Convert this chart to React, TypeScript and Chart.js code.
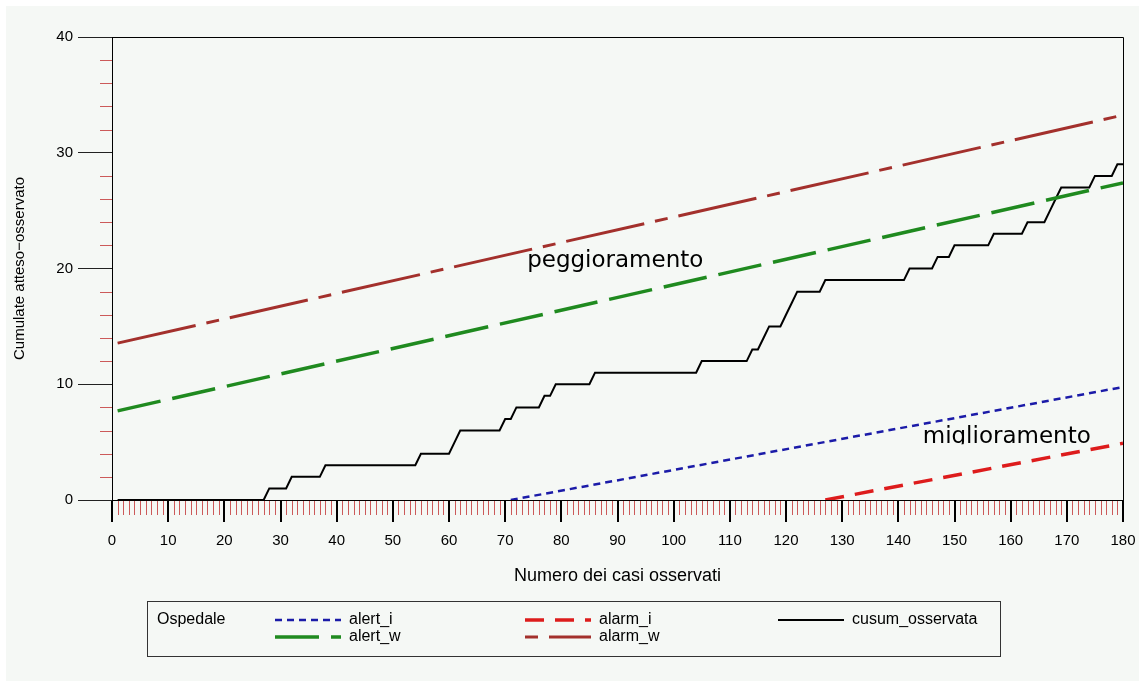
import React, { useEffect, useRef } from "react";
import { Chart, registerables } from "chart.js";

Chart.register(...registerables);

// ---- data ----
const cusumCases = [1, 27, 28, 31, 32, 37, 38, 54, 55, 60, 61, 62, 69, 70, 71, 72, 76, 77, 78, 79, 85, 86, 104, 105, 113, 114, 115, 116, 117, 119, 120, 121, 122, 126, 127, 141, 142, 146, 147, 149, 150, 156, 157, 162, 163, 166, 167, 168, 169, 174, 175, 178, 179, 180];
const cusumValues = [0, 0, 1, 1, 2, 2, 3, 3, 4, 4, 5, 6, 6, 7, 7, 8, 8, 9, 9, 10, 10, 11, 11, 12, 12, 13, 13, 14, 15, 15, 16, 17, 18, 18, 19, 19, 20, 20, 21, 21, 22, 22, 23, 23, 24, 24, 25, 26, 27, 27, 28, 28, 29, 29];

const alertICases = [71, 180];
const alertIValues = [0, 9.76];
const alarmICases = [127, 180];
const alarmIValues = [0, 4.9];
const alertWCases = [1, 180];
const alertWValues = [7.7, 27.4];
const alarmWCases = [1, 180];
const alarmWValues = [13.55, 33.25];

const xMin = 0, xMax = 180, xStep = 10;
const yMin = 0, yMax = 40, yStep = 10;

const xTitle = "Numero dei casi osservati";
const yTitle = "Cumulate atteso\u2212osservato";
const legendTitle = "Ospedale";

// ---- styles ----
const FONT = "'Liberation Sans', Arial, sans-serif";
const COMIC = "'Comic Sans MS', 'DejaVu Sans', sans-serif";
const BG = "#f5f8f5";
const MINOR = "#cc5a5a";

const styles = {
  alert_i: { color: "#1b1ba8", width: 2.5, dash: [7, 5] },
  alert_w: { color: "#1f8a1f", width: 3.5, dash: [44, 12] },
  alarm_i: { color: "#dd1c1c", width: 3.5, dash: [19, 11] },
  alarm_w: { color: "#a3302c", width: 3, dash: [80, 11, 13, 11] },
  cusum: { color: "#000000", width: 2, dash: [] as number[] },
};

const annotations = [
  { text: "peggioramento", x: 89.6, y: 20.1, clip: false },
  { text: "miglioramento", x: 159.3, y: 4.9, clip: true },
];

const pts = (xs: number[], ys: number[]) => xs.map((x, i) => ({ x, y: ys[i] }));

const ds = (label: string, xs: number[], ys: number[], st: any) => ({
  label,
  data: pts(xs, ys),
  borderColor: st.color,
  backgroundColor: st.color,
  borderWidth: st.width,
  borderDash: st.dash,
  borderCapStyle: "butt",
  pointRadius: 0,
  tension: 0,
  fill: false,
});

const framePlugin = {
  id: "frameAndExtras",
  beforeDraw(chart: any) {
    const { ctx, width, height } = chart;
    ctx.save();
    ctx.fillStyle = "#ffffff";
    ctx.fillRect(0, 0, width, height);
    ctx.fillStyle = BG;
    ctx.fillRect(6, 6, width - 6, height - 6);
    ctx.restore();
  },
  afterDraw(chart: any) {
    const { ctx, chartArea: ca, scales } = chart;
    const xs = scales.x, ys = scales.y;
    ctx.save();
    // frame top & right
    ctx.strokeStyle = "#000";
    ctx.lineWidth = 1;
    ctx.beginPath();
    ctx.moveTo(Math.round(ca.left) + 0.5, Math.round(ca.top) + 0.5);
    ctx.lineTo(Math.round(ca.right) + 0.5, Math.round(ca.top) + 0.5);
    ctx.lineTo(Math.round(ca.right) + 0.5, Math.round(ca.bottom) + 0.5);
    ctx.stroke();

    // minor ticks x
    ctx.strokeStyle = MINOR;
    ctx.lineWidth = 1;
    ctx.beginPath();
    for (let v = xMin + 1; v < xMax; v++) {
      if (v % xStep === 0) continue;
      const px = Math.round(xs.getPixelForValue(v)) + 0.5;
      ctx.moveTo(px, ca.bottom + 1);
      ctx.lineTo(px, ca.bottom + 15);
    }
    // minor ticks y
    for (let v = yMin + 2; v < yMax; v += 2) {
      if (v % yStep === 0) continue;
      const py = Math.round(ys.getPixelForValue(v)) + 0.5;
      ctx.moveTo(ca.left - 12, py);
      ctx.lineTo(ca.left, py);
    }
    ctx.stroke();

    // annotations
    ctx.fillStyle = "#000";
    ctx.font = `23px ${COMIC}`;
    ctx.textAlign = "center";
    ctx.textBaseline = "alphabetic";
    for (const a of annotations) {
      const px = xs.getPixelForValue(a.x);
      const py = ys.getPixelForValue(a.y);
      ctx.save();
      if (a.clip) {
        ctx.beginPath();
        ctx.rect(0, 0, chart.width, py + 1);
        ctx.clip();
      }
      ctx.fillText(a.text, px, py);
      ctx.restore();
    }

    // legend
    const box = { left: 147, top: 601, right: 1000, bottom: 656 };
    ctx.strokeStyle = "#333";
    ctx.lineWidth = 1;
    ctx.strokeRect(box.left + 0.5, box.top + 0.5, box.right - box.left, box.bottom - box.top);
    const r1 = 620, r2 = 637;
    ctx.font = `16px ${FONT}`;
    ctx.textAlign = "left";
    ctx.textBaseline = "middle";
    ctx.fillStyle = "#000";
    ctx.fillText(legendTitle, 157, r1);
    const items = [
      { st: styles.alert_i, label: "alert_i", x: 275, y: r1, off: 0 },
      { st: styles.alert_w, label: "alert_w", x: 275, y: r2, off: 0 },
      { st: styles.alarm_i, label: "alarm_i", x: 525, y: r1, off: 0 },
      { st: styles.alarm_w, label: "alarm_w", x: 525, y: r2, off: 91 },
      { st: styles.cusum, label: "cusum_osservata", x: 778, y: r1, off: 0 },
    ];
    for (const it of items) {
      ctx.save();
      ctx.strokeStyle = it.st.color;
      ctx.lineWidth = it.st.width;
      ctx.lineCap = "butt";
      ctx.setLineDash(it.st.dash);
      ctx.lineDashOffset = it.off;
      ctx.beginPath();
      ctx.moveTo(it.x, it.y);
      ctx.lineTo(it.x + 66, it.y);
      ctx.stroke();
      ctx.restore();
      ctx.fillText(it.label, it.x + 74, it.y);
    }
    ctx.restore();
  },
};

export default function App() {
  const ref = useRef<HTMLCanvasElement | null>(null);
  useEffect(() => {
    document.body.style.margin = "0";
    document.body.style.overflow = "hidden";
    const canvas = ref.current!;
    const chart = new Chart(canvas, {
      type: "line",
      data: {
        datasets: [
          ds("alert_i", alertICases, alertIValues, styles.alert_i),
          ds("alarm_i", alarmICases, alarmIValues, styles.alarm_i),
          ds("alert_w", alertWCases, alertWValues, styles.alert_w),
          ds("alarm_w", alarmWCases, alarmWValues, styles.alarm_w),
          ds("cusum_osservata", cusumCases, cusumValues, styles.cusum),
        ] as any,
      },
      options: {
        responsive: false,
        animation: false,
        events: [],
        layout: { padding: { top: 37, right: 16, left: 0, bottom: 0 } },
        plugins: { legend: { display: false }, tooltip: { enabled: false } },
        scales: {
          x: {
            type: "linear",
            min: xMin,
            max: xMax,
            afterFit: (s: any) => { s.height = 181; s.paddingLeft = 0; s.paddingRight = 0; },
            ticks: {
              stepSize: xStep,
              autoSkip: false,
              maxRotation: 0,
              color: "#000",
              padding: 10,
              font: { family: FONT, size: 15 },
            },
            grid: { drawOnChartArea: false, drawTicks: true, tickLength: 22, color: "#000", lineWidth: 2 },
            border: { display: true, color: "#000", width: 1 },
            title: {
              display: true,
              text: xTitle,
              color: "#000",
              font: { family: FONT, size: 18 },
              padding: { top: 0, bottom: 94 },
            },
          },
          y: {
            type: "linear",
            min: yMin,
            max: yMax,
            afterFit: (s: any) => { s.width = 112; s.paddingTop = 0; s.paddingBottom = 0; },
            ticks: {
              stepSize: yStep,
              color: "#000",
              padding: 5,
              font: { family: FONT, size: 15 },
            },
            grid: { drawOnChartArea: false, drawTicks: true, tickLength: 34, color: "#222", lineWidth: 1 },
            border: { display: true, color: "#000", width: 1 },
            title: {
              display: true,
              text: yTitle,
              color: "#000",
              font: { family: FONT, size: 15 },
              padding: { top: 11, bottom: 0 },
            },
          },
        },
      } as any,
      plugins: [framePlugin],
    });
    return () => chart.destroy();
  }, []);
  return (
    <canvas
      ref={ref}
      width={1139}
      height={681}
      style={{ display: "block", width: 1139, height: 681 }}
    />
  );
}
